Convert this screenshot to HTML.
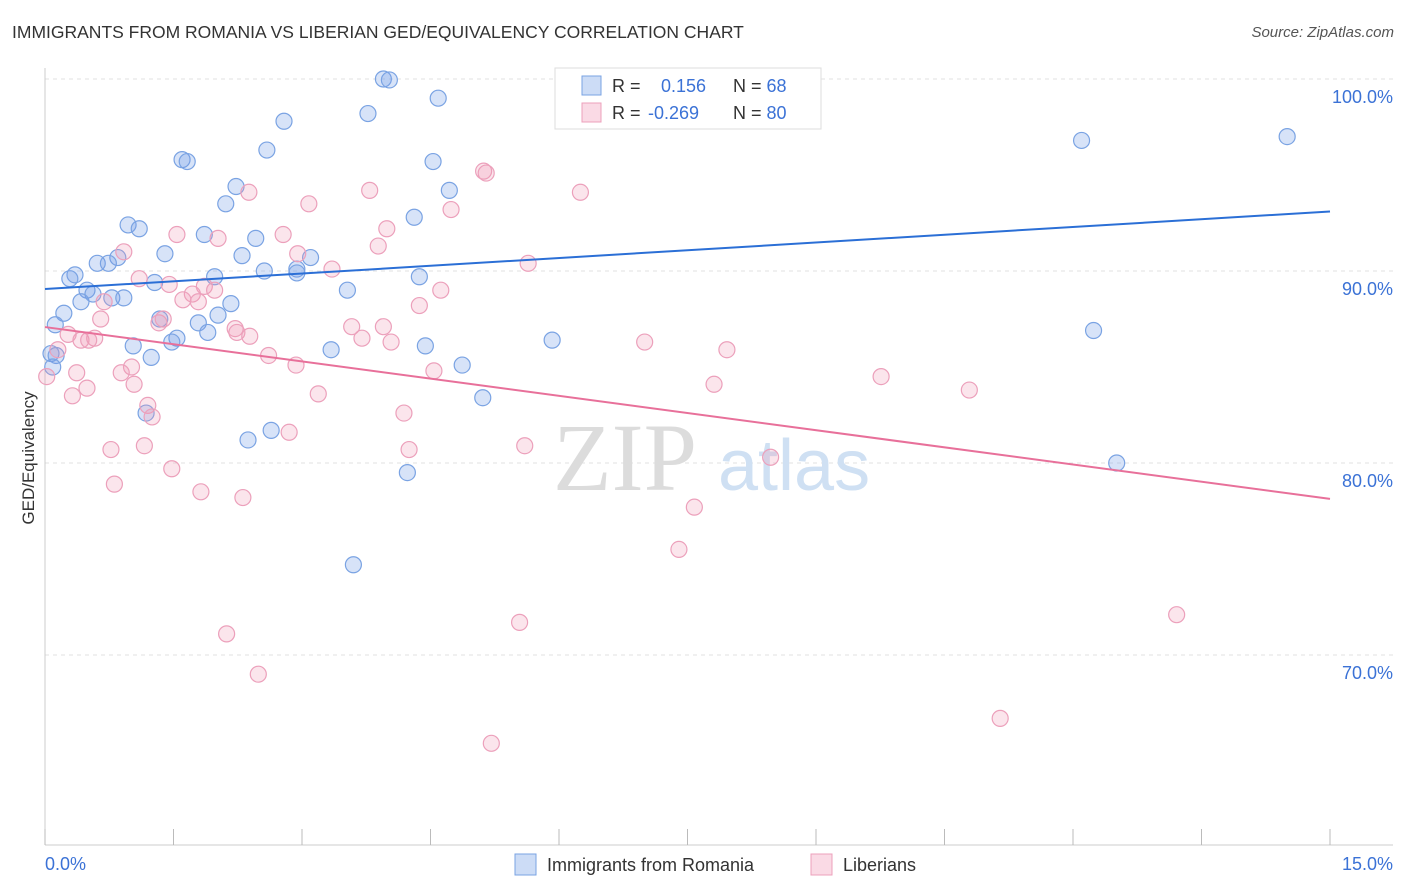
<!DOCTYPE html>
<html><head><meta charset="utf-8">
<style>
body{margin:0;background:#fff;font-family:"Liberation Sans",sans-serif;}
#wrap{position:relative;width:1406px;height:892px;overflow:hidden;}
.t{position:absolute;white-space:nowrap;}
</style></head>
<body>
<div id="wrap">
<div class="t" style="left:12px;top:22px;font-size:17.5px;color:#333;">IMMIGRANTS FROM ROMANIA VS LIBERIAN GED/EQUIVALENCY CORRELATION CHART</div>
<div class="t" style="right:12px;top:24px;font-size:15px;color:#555;font-style:italic;">Source: ZipAtlas.com</div>
<svg id="svg" width="1406" height="892" style="position:absolute;left:0;top:0"></svg>
</div>
<script>
const xTickLabels=["0.0%","15.0%"];
const yTicks=[100,90,80,70];
const blueX=[3.95,4.02,4.59,3.77,2.79,2.59,1.60,1.66,4.53,2.23,4.72,2.11,4.31,0.97,1.10,1.86,2.46,1.40,2.30,0.85,3.10,0.61,0.74,2.56,2.94,2.94,0.35,0.29,4.37,1.98,1.28,0.49,0.56,3.53,0.78,0.92,0.42,2.17,0.22,2.02,1.79,1.34,0.12,1.90,1.54,1.48,1.03,3.34,4.44,5.92,0.07,1.24,0.13,4.87,0.09,5.11,1.18,2.64,2.37,4.23,3.60,12.10,14.50,12.24,12.51];
const blueY=[100,99.95,99.0,98.2,97.8,96.3,95.8,95.7,95.7,94.4,94.2,93.5,92.8,92.4,92.2,91.9,91.7,90.9,90.8,90.7,90.7,90.4,90.4,90.0,90.1,89.9,89.8,89.6,89.7,89.7,89.4,89.0,88.8,89.0,88.6,88.6,88.4,88.3,87.8,87.7,87.3,87.5,87.2,86.8,86.5,86.3,86.1,85.9,86.1,86.4,85.7,85.5,85.6,85.1,85.0,83.4,82.6,81.7,81.2,79.5,74.7,96.8,97.0,86.9,80.0];
const pinkX=[6.56,5.12,5.15,6.25,2.38,3.79,3.08,4.74,3.99,1.54,2.78,2.02,3.89,0.92,2.95,5.64,3.35,1.10,1.45,1.86,1.98,4.62,1.72,1.61,1.79,4.37,0.69,0.65,1.33,1.38,3.58,3.95,2.22,2.24,2.39,0.27,0.42,0.58,0.51,3.70,4.04,7.00,7.96,0.15,2.61,2.93,1.01,0.89,0.37,4.54,0.02,9.76,1.04,7.81,0.49,10.79,0.32,3.19,1.20,4.19,1.25,2.85,5.60,1.16,0.77,4.25,8.47,1.48,0.81,1.82,2.31,7.58,7.40,13.21,5.54,2.12,2.49,11.15,5.21];
const pinkY=[98.4,95.2,95.1,94.1,94.1,94.2,93.5,93.2,92.2,91.9,91.9,91.7,91.3,91.0,90.9,90.4,90.1,89.6,89.3,89.2,89.0,89.0,88.8,88.5,88.4,88.2,88.4,87.5,87.3,87.5,87.1,87.1,87.0,86.8,86.6,86.7,86.4,86.5,86.4,86.5,86.3,86.3,85.9,85.9,85.6,85.1,85.0,84.7,84.7,84.8,84.5,84.5,84.1,84.1,83.9,83.8,83.5,83.6,83.0,82.6,82.4,81.6,80.9,80.9,80.7,80.7,80.3,79.7,78.9,78.5,78.2,77.7,75.5,72.1,71.7,71.1,69.0,66.7,65.4];
const blueTrend=[89.06,93.1];
const pinkTrend=[87.08,78.13];
const legendR=["0.156","-0.269"];
const legendN=["68","80"];

const NS="http://www.w3.org/2000/svg";
const svg=document.getElementById('svg');
const X=v=>45+v/15*1285;
const Y=v=>79+(100-v)*19.2;
function mk(tag,attrs,parent){const e=document.createElementNS(NS,tag);for(const k in attrs)e.setAttribute(k,attrs[k]);(parent||svg).appendChild(e);return e;}

// gridlines + labels
yTicks.forEach(t=>{
  const g=mk('line',{x1:45,x2:1393,y1:Y(t),y2:Y(t),stroke:'#e2e2e2','stroke-dasharray':'4,4'});
  
  
  const tx=mk('text',{x:1393,y:Y(t)+24,'text-anchor':'end','font-size':18,fill:'#3b72d6','font-family':'Liberation Sans, sans-serif'});
  tx.textContent=t.toFixed(1)+'%';
  
  
});
// axes
let a=mk('line',{x1:45,x2:45,y1:68,y2:845,stroke:'#ccc'});


a=mk('line',{x1:45,x2:1393,y1:845,y2:845,stroke:'#ccc'});


for(let i=0;i<=10;i++){const t=mk('line',{x1:X(i*1.5),x2:X(i*1.5),y1:829,y2:845,stroke:'#bbb'});

}
let lx=mk('text',{x:45,y:870,'font-size':18,fill:'#3b72d6','font-family':'Liberation Sans, sans-serif'});lx.textContent=xTickLabels[0];


lx=mk('text',{x:1393,y:870,'text-anchor':'end','font-size':18,fill:'#3b72d6','font-family':'Liberation Sans, sans-serif'});lx.textContent=xTickLabels[1];


let yt=mk('text',{x:0,y:0,transform:'translate(34,458) rotate(-90)','text-anchor':'middle','font-size':17,fill:'#333','font-family':'Liberation Sans, sans-serif'});yt.textContent='GED/Equivalency';


// watermark
let wm=mk('text',{x:553,y:490,'font-size':96,fill:'#dcdcdc','font-family':'Liberation Serif, serif'});wm.textContent='ZIP';


wm=mk('text',{x:718,y:490,'font-size':72,fill:'#cfe0f3','font-family':'Liberation Sans, sans-serif'});wm.textContent='atlas';


// points
blueX.forEach((v,i)=>{const c=mk('circle',{cx:X(v),cy:Y(blueY[i]),r:8,fill:'rgba(110,155,230,0.28)',stroke:'#7aa3e3','stroke-width':1.2});

});
pinkX.forEach((v,i)=>{const c=mk('circle',{cx:X(v),cy:Y(pinkY[i]),r:8,fill:'rgba(240,150,180,0.25)',stroke:'#eca0bb','stroke-width':1.2});

});
// trend lines
let tl=mk('line',{x1:X(0),y1:Y(blueTrend[0]),x2:X(15),y2:Y(blueTrend[1]),stroke:'#2b6fd6','stroke-width':2});


tl=mk('line',{x1:X(0),y1:Y(pinkTrend[0]),x2:X(15),y2:Y(pinkTrend[1]),stroke:'#e8709a','stroke-width':2});


// legend box
let lb=mk('rect',{x:555,y:68,width:266,height:61,fill:'#fff',stroke:'#ddd'});


[['rgba(110,155,230,0.35)','#7aa3e3'],['rgba(240,150,180,0.35)','#eca0bb']].forEach((c,i)=>{
  const y=76+i*27;
  const r=mk('rect',{x:582,y:y,width:19,height:19,fill:c[0],stroke:c[1]});
  
  
  const t=mk('text',{x:612,y:y+16,'font-size':18,fill:'#333','font-family':'Liberation Sans, sans-serif'});
  t.innerHTML='R = <tspan fill="#3b72d6" x="'+(i?648:661)+'">'+legendR[i]+'</tspan><tspan x="733" fill="#333">N = </tspan><tspan fill="#3b72d6">'+legendN[i]+'</tspan>';
  
  
});
// bottom legend
[['Immigrants from Romania',515,'rgba(110,155,230,0.35)','#7aa3e3'],['Liberians',811,'rgba(240,150,180,0.35)','#eca0bb']].forEach(l=>{
  const r=mk('rect',{x:l[1],y:854,width:21,height:21,fill:l[2],stroke:l[3]});
  
  
  const t=mk('text',{x:l[1]+32,y:871,'font-size':18,fill:'#333','font-family':'Liberation Sans, sans-serif'});t.textContent=l[0];
  
  
});
</script>
</body></html>
